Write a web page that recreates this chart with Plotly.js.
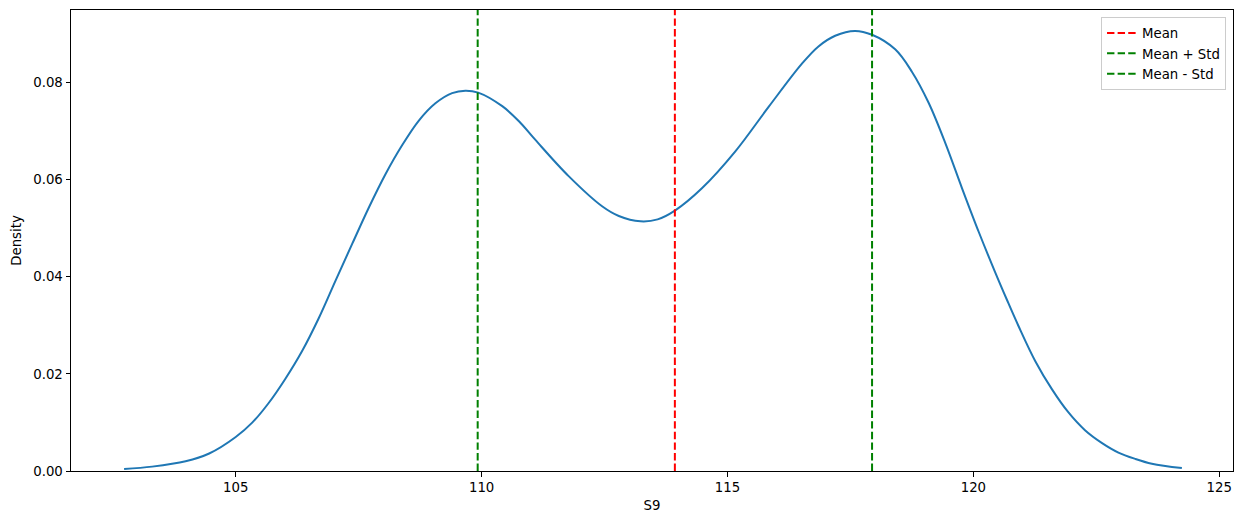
<!DOCTYPE html>
<html>
<head>
<meta charset="utf-8">
<script src="https://cdn.plot.ly/plotly-3.0.1.min.js"></script>
<style>html,body{margin:0;padding:0;background:#fff;}#chart{width:1242px;height:525px;}</style>
</head>
<body>
<div id="chart"></div>
<script>
// KDE curve of S9
const kdeX = [102.73, 103.30, 103.98, 104.46, 105.00, 105.34, 105.67, 106.01, 106.35, 106.69,
  107.03, 107.37, 107.71, 108.05, 108.38, 108.72, 109.06, 109.40, 109.67, 109.93,
  110.42, 110.76, 111.09, 111.77, 112.45, 112.79, 113.23, 113.58, 113.93, 114.48,
  115.16, 115.84, 116.51, 116.85, 117.19, 117.59, 117.94, 118.41, 118.75, 119.09,
  119.43, 119.77, 120.11, 120.44, 120.68, 120.92, 121.26, 121.60, 121.93, 122.27,
  122.61, 122.95, 123.29, 123.63, 124.24];
const kdeY = [0.0004, 0.0009, 0.0020, 0.0036, 0.0070, 0.0100, 0.0140, 0.0190, 0.0247, 0.0315,
  0.0392, 0.0468, 0.0543, 0.0612, 0.0670, 0.0721, 0.0757, 0.0778, 0.0783, 0.0779,
  0.0751, 0.0720, 0.0682, 0.0607, 0.0545, 0.0525, 0.0514, 0.0518, 0.0536, 0.0582,
  0.0658, 0.0750, 0.0838, 0.0874, 0.0896, 0.0906, 0.0898, 0.0868, 0.0822, 0.0758,
  0.0675, 0.0582, 0.0492, 0.0410, 0.0353, 0.0298, 0.0226, 0.0168, 0.0121, 0.0084,
  0.0058, 0.0038, 0.0025, 0.0015, 0.0006];

const meanValue = 113.93;
const stdValue = 4.01;
const refNames = ["Mean", "Mean + Std", "Mean - Std"];
const refColors = ["red", "green", "green"];
const refValues = [meanValue, meanValue + stdValue, meanValue - stdValue];

const xTicks = [105, 110, 115, 120, 125];
const yTicks = [0, 0.02, 0.04, 0.06, 0.08];
const xRange = [101.65, 125.28];
const yRange = [0, 0.0949];

const FONT = "DejaVu Sans";
const FS = 13.3;

const traces = [{
  x: kdeX, y: kdeY, type: "scatter", mode: "lines",
  line: {color: "#1f77b4", width: 2, shape: "spline", smoothing: 1},
  showlegend: false, hoverinfo: "skip"
}];
refValues.forEach((v, i) => {
  traces.push({
    x: [v, v], y: yRange, type: "scatter", mode: "lines", name: refNames[i],
    line: {color: refColors[i], width: 2, dash: "7.4px,3.2px"}
  });
});

const axisBase = {
  showline: true, linecolor: "black", linewidth: 1, mirror: true,
  ticks: "outside", ticklen: 4.5, tickwidth: 1, tickcolor: "black",
  showgrid: false, zeroline: false,
  tickfont: {family: FONT, size: FS, color: "black"}
};

const layout = {
  width: 1242, height: 525,
  margin: {l: 71, r: 9, t: 10, b: 54},
  paper_bgcolor: "white", plot_bgcolor: "white",
  font: {family: FONT, size: FS, color: "black"},
  xaxis: Object.assign({}, axisBase, {
    range: xRange, tickvals: xTicks, ticktext: xTicks.map(String),
    title: {text: "S9", font: {family: FONT, size: FS}, standoff: 6}
  }),
  yaxis: Object.assign({}, axisBase, {
    range: yRange, tickvals: yTicks, ticktext: yTicks.map(v => v.toFixed(2)),
    title: {text: "Density", font: {family: FONT, size: FS}, standoff: 8}
  }),
  legend: {
    x: 0.994, y: 0.985, xanchor: "right", yanchor: "top",
    bgcolor: "rgba(255,255,255,0.8)", bordercolor: "#cccccc", borderwidth: 1,
    font: {family: FONT, size: FS}, tracegroupgap: 0, itemwidth: 30
  },
  showlegend: true
};

Plotly.newPlot("chart", traces, layout, {displayModeBar: false, staticPlot: true});
</script>
</body>
</html>
